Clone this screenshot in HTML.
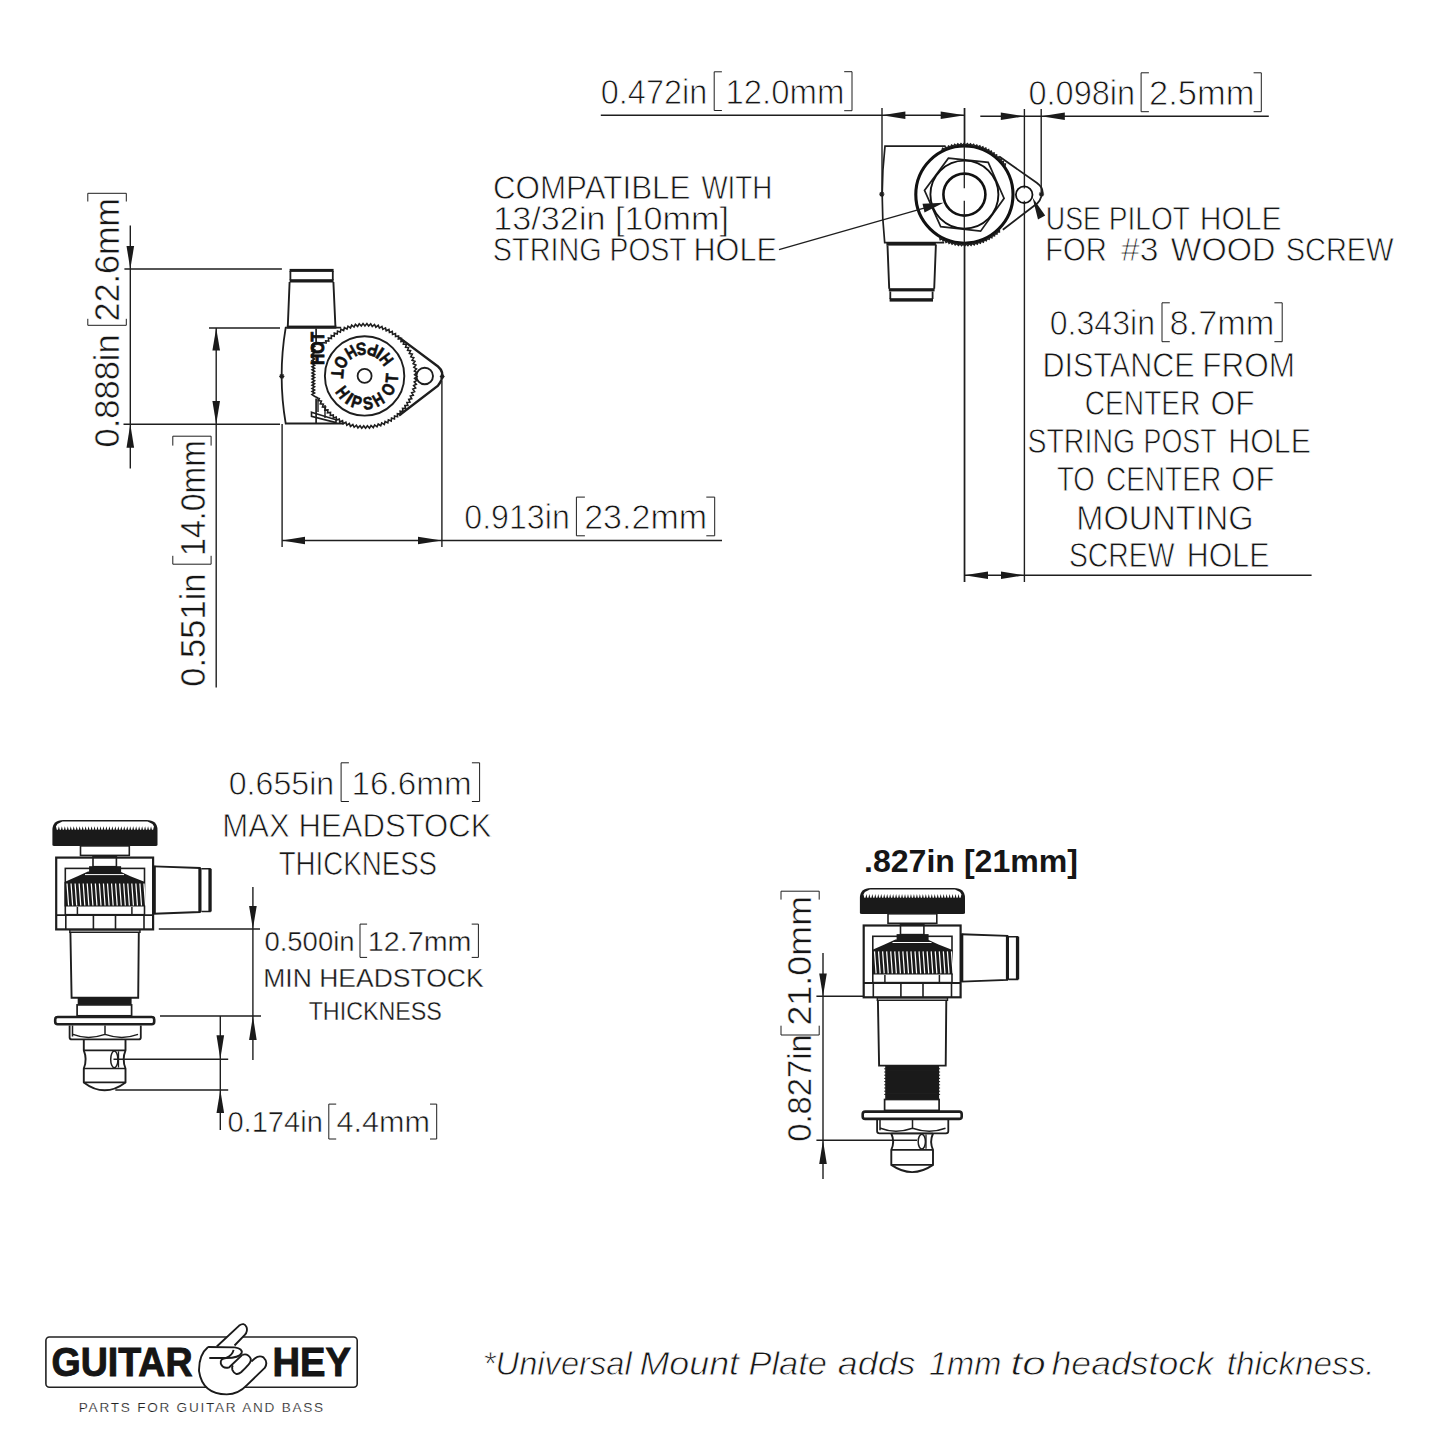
<!DOCTYPE html>
<html><head><meta charset="utf-8"><style>
html,body{margin:0;padding:0;background:#fff;}
svg{display:block;}
.t,.tb,.ti{font-family:"Liberation Sans", sans-serif;fill:#161616;}
.t,.ti{stroke:#fff;stroke-width:0.85px;}
.tr{stroke-width:0.45px;}
.tb{font-weight:bold;}
.lg{stroke:#111;stroke-width:0.9px;}
.ti{font-style:italic;}
line,.s{stroke:#1e1e1e;fill:none;}
.f{fill:#1a1a1a;stroke:none;}
</style></head><body>
<svg width="1445" height="1445" viewBox="0 0 1445 1445">
<rect width="1445" height="1445" fill="#fff"/>
<line x1="600.8" y1="115.2" x2="964.7" y2="115.2" stroke-width="1.4"/>
<line x1="882" y1="108" x2="882" y2="194" stroke-width="1.4"/>
<line x1="964.7" y1="108" x2="964.7" y2="582" stroke-width="1.4"/>
<polygon class="f" points="882.00,115.20 905.40,111.40 905.40,119.00"/>
<polygon class="f" points="964.70,115.20 940.70,119.00 940.70,111.40"/>
<path class="s" d="M721.9,71.8 H714.2 V110.5 H721.9"/>
<path class="s" d="M844.2,71.7 H852 V110.7 H844.2"/>
<line x1="980.3" y1="116.3" x2="1268.8" y2="116.3" stroke-width="1.4"/>
<line x1="1024.4" y1="109" x2="1024.4" y2="582" stroke-width="1.4"/>
<line x1="1041.2" y1="109" x2="1041.2" y2="192" stroke-width="1.4"/>
<polygon class="f" points="1024.40,116.30 1000.80,120.10 1000.80,112.50"/>
<polygon class="f" points="1041.20,116.30 1064.80,112.50 1064.80,120.10"/>
<path class="s" d="M1148.9,72.8 H1141.1 V111.7 H1148.9"/>
<path class="s" d="M1253.6,72.8 H1261.3 V111.7 H1253.6"/>
<path class="s" d="M1169.8,302.8 H1162 V341.7 H1169.8"/>
<path class="s" d="M1274.4,302.8 H1282.2 V341.7 H1274.4"/>
<line x1="964.5" y1="575.3" x2="1311.6" y2="575.3" stroke-width="1.4"/>
<polygon class="f" points="964.50,575.30 988.00,571.50 988.00,579.10"/>
<polygon class="f" points="1024.40,575.30 1001.00,579.10 1001.00,571.50"/>
<line x1="130.3" y1="225.4" x2="130.3" y2="468.4" stroke-width="1.4"/>
<polygon class="f" points="130.30,269.00 126.50,246.10 134.10,246.10"/>
<polygon class="f" points="130.30,424.30 134.10,447.70 126.50,447.70"/>
<line x1="124.4" y1="269" x2="281.9" y2="269" stroke-width="1.4"/>
<line x1="209" y1="328" x2="280" y2="328" stroke-width="1.4"/>
<line x1="123.5" y1="424.3" x2="280" y2="424.3" stroke-width="1.4"/>
<line x1="216.2" y1="328" x2="216.2" y2="687.6" stroke-width="1.4"/>
<polygon class="f" points="216.20,328.00 220.00,350.50 212.40,350.50"/>
<polygon class="f" points="216.20,424.30 212.40,400.90 220.00,400.90"/>
<path class="s" d="M87.8,318.8 V325.3 H126.3 V318.8"/>
<path class="s" d="M87.8,201.5 V193.3 H126.3 V201.5"/>
<path class="s" d="M172.8,555.8 V564.2 H211.1 V555.8"/>
<path class="s" d="M172.8,445.6 V436.2 H211.1 V445.6"/>
<line x1="282.1" y1="424" x2="282.1" y2="546.9" stroke-width="1.4"/>
<line x1="441.9" y1="380.8" x2="441.9" y2="546.9" stroke-width="1.4"/>
<line x1="282.1" y1="540.5" x2="722" y2="540.5" stroke-width="1.4"/>
<polygon class="f" points="282.10,540.50 305.00,536.70 305.00,544.30"/>
<polygon class="f" points="441.90,540.50 418.00,544.30 418.00,536.70"/>
<path class="s" d="M584.9,497.1 H576.4 V535.8 H584.9"/>
<path class="s" d="M706.3,497.1 H714.7 V535.8 H706.3"/>
<path class="s" d="M348.9,762.8 H341.1 V801.5 H348.9"/>
<path class="s" d="M471.9,762.8 H479.6 V801.5 H471.9"/>
<path class="s" d="M367.1,924.1 H360 V957.4 H367.1"/>
<path class="s" d="M471.7,924.1 H478.4 V957.4 H471.7"/>
<path class="s" d="M336.2,1104.1 H328.8 V1139 H336.2"/>
<path class="s" d="M430,1104.1 H436.7 V1139 H430"/>
<line x1="158.8" y1="929" x2="260" y2="929" stroke-width="1.4"/>
<line x1="160" y1="1016" x2="261" y2="1016" stroke-width="1.4"/>
<line x1="252.9" y1="887" x2="252.9" y2="1060" stroke-width="1.4"/>
<polygon class="f" points="252.90,929.00 249.10,905.90 256.70,905.90"/>
<polygon class="f" points="252.90,1016.00 256.70,1040.00 249.10,1040.00"/>
<line x1="220.3" y1="1016" x2="220.3" y2="1129.9" stroke-width="1.4"/>
<polygon class="f" points="220.30,1059.30 216.50,1035.30 224.10,1035.30"/>
<polygon class="f" points="220.30,1090.00 224.10,1113.00 216.50,1113.00"/>
<line x1="113.5" y1="1059.3" x2="228.2" y2="1059.3" stroke-width="1.4"/>
<line x1="115.3" y1="1090" x2="228.2" y2="1090" stroke-width="1.4"/>
<line x1="823" y1="952.9" x2="823" y2="1178.9" stroke-width="1.4"/>
<polygon class="f" points="823.00,996.30 819.20,973.40 826.80,973.40"/>
<polygon class="f" points="823.00,1140.30 826.80,1164.00 819.20,1164.00"/>
<line x1="816.4" y1="996.3" x2="863.5" y2="996.3" stroke-width="1.4"/>
<line x1="816.4" y1="1140.3" x2="917" y2="1140.3" stroke-width="1.4"/>
<path class="s" d="M781,1025.7 V1035 H819.2 V1025.7"/>
<path class="s" d="M781,899.6 V891.2 H819.2 V899.6"/>
<path class="s" d="M945.6,146.1 H885 Q879.5,194 884.7,242.6 H944.2" stroke-width="1.7" />
<rect class="f" x="886.4" y="242.4" width="49.5" height="3.2"/>
<path class="s" d="M887.5,245.4 L889.2,288.7 M935.9,244.4 L934.2,288.7" stroke-width="1.9" />
<rect class="f" x="888.8" y="288.2" width="45.8" height="3.2"/>
<path class="s" d="M890.3,291.4 V299 M932.6,291.4 V299" stroke-width="1.8" />
<rect class="f" x="889.6" y="298.2" width="43.4" height="3.4"/>
<path class="s" d="M999.3,156.5 L1036.7,182.8 Q1045,189 1041.5,196 Q1040,201 1037.4,203.2 L1002.8,229.8" stroke-width="1.8" />
<circle cx="964.4" cy="194.6" r="48.6" fill="#fff" stroke="#111" stroke-width="3.1"/>
<polyline class="s" points="941.95,150.54 942.61,148.32 944.73,149.23 945.53,147.06 947.59,148.09 948.52,145.98 950.52,147.14 951.57,145.08 953.50,146.37 954.68,144.38 956.52,145.78 957.82,143.88 959.57,145.39 960.99,143.56 962.64,145.18 964.17,143.45 965.71,145.17 967.35,143.54 968.78,145.34 970.52,143.82 971.84,145.71 973.66,144.30 974.86,146.27 976.77,144.97 977.85,147.01 979.84,145.83 980.78,147.94 982.84,146.89 983.65,149.05 985.77,148.13 986.45,150.34 988.62,149.55 989.16,151.79 991.37,151.14 991.77,153.42 994.02,152.90 994.28,155.20 996.56,154.82 996.67,157.13 998.97,156.90 998.94,159.21 1001.25,159.12 1001.07,161.43 1003.38,161.48 1003.06,163.77 1005.37,163.97 1004.91,166.24" stroke-width="1.5" stroke-linejoin="miter"/>
<polyline class="s" points="999.37,229.57 999.42,231.88 997.12,231.68 997.03,233.99 994.75,233.64 994.52,235.94 992.26,235.46 991.88,237.74 989.66,237.11 989.14,239.37 986.96,238.60 986.31,240.82 984.17,239.92 983.38,242.10 981.31,241.07 980.39,243.19 978.39,242.03 977.33,244.09 975.40,242.81 974.22,244.80 972.38,243.40 971.08,245.31 969.32,243.80 967.90,245.63 966.25,244.02 964.72,245.75 963.17,244.03 961.53,245.67 960.09,243.86 958.36,245.39 957.03,243.50 955.20,244.92 954.00,242.94 952.09,244.25 951.01,242.20 949.02,243.38 948.07,241.28 946.01,242.33 945.19,240.17 943.07,241.09 942.39,238.88 940.22,239.67 939.67,237.42" stroke-width="1.5" stroke-linejoin="miter"/>
<polygon class="s" stroke-width="1.7" points="948.4,158.2 988.2,162.3 1004.1,198.3 980.6,231.2 940.7,226.7 924.5,190.4"/>
<circle cx="964.4" cy="194.6" r="34" fill="none" stroke="#111" stroke-width="1.9"/>
<circle cx="964.4" cy="194.6" r="21" fill="none" stroke="#111" stroke-width="2.6"/>
<line x1="964.3" y1="108" x2="964.3" y2="188.3" stroke-width="1.3"/>
<line x1="964.3" y1="200.7" x2="964.3" y2="582" stroke-width="1.3"/>
<path class="s" d="M879.1999999999999,194.2 H884.4 M881.8,191.6 V196.79999999999998 M879.9799999999999,192.38 L883.62,196.01999999999998 M879.9799999999999,196.01999999999998 L883.62,192.38" stroke-width="1.2"/>
<path class="s" d="M1038.9,194.2 H1044.1 M1041.5,191.6 V196.79999999999998 M1039.68,192.38 L1043.32,196.01999999999998 M1039.68,196.01999999999998 L1043.32,192.38" stroke-width="1.2"/>
<circle cx="1024.2" cy="194.7" r="8.3" fill="#fff" stroke="#111" stroke-width="1.8"/>
<line x1="1024.3" y1="186.5" x2="1024.3" y2="188.5" stroke-width="1.2"/>
<line x1="1024.3" y1="200.8" x2="1024.3" y2="203" stroke-width="1.2"/>
<line x1="779" y1="249.7" x2="924" y2="208.2" stroke-width="1.3"/>
<polygon class="f" points="943.5,202.8 922.5,203.8 924.5,212.6"/>
<polygon class="f" points="1032.5,197.6 1038,219.5 1045.2,215.6"/>
<rect class="f" x="289.6" y="268.9" width="44" height="3"/>
<rect class="f" x="289.6" y="279.2" width="44" height="3.3"/>
<path class="s" d="M290.4,271 V280 M332.8,271 V280" stroke-width="1.8" />
<path class="s" d="M289.6,282 L287.8,326.5 M333.4,282 L335.4,326.5" stroke-width="1.9" />
<rect class="f" x="286.8" y="325.6" width="49.6" height="3"/>
<path class="s" d="M341.2,327.6 H285.7 Q277.6,376 285.7,423.5 H343.5" stroke-width="1.8" />
<line x1="316.1" y1="328.5" x2="316.1" y2="423.5" stroke-width="1.7"/>
<path class="s" d="M279.2,376.3 H284.40000000000003 M281.8,373.7 V378.90000000000003 M279.98,374.48 L283.62,378.12 M279.98,378.12 L283.62,374.48" stroke-width="1.2"/>
<path class="s" d="M399,337.4 L438,366.5 Q444.5,372 441.4,380 Q440,383 438,385.6 L399,415.5" stroke-width="2.4" />
<circle class="s" cx="424.7" cy="376" r="8.3" stroke-width="1.9"/>
<circle cx="364.6" cy="375.9" r="51" fill="#fff" stroke="none"/>
<rect x="312" y="342.5" width="16" height="56" fill="#fff"/>
<polyline class="s" points="326.30,343.76 325.72,340.77 328.75,341.04 328.40,338.02 331.40,338.51 331.27,335.47 334.23,336.18 334.32,333.13 337.22,334.06 337.53,331.03 340.36,332.17 340.89,329.17 343.63,330.51 344.38,327.56 347.01,329.10 347.97,326.21 350.48,327.93 351.66,325.12 354.03,327.03 355.41,324.31 357.64,326.39 359.21,323.78 361.29,326.01 363.05,323.52 364.95,325.90 366.89,323.55 368.61,326.06 370.71,323.86 372.25,326.49 374.51,324.45 375.85,327.18 378.25,325.31 379.39,328.14 381.92,326.44 382.84,329.35 385.49,327.85 386.20,330.81 388.96,329.51 389.45,332.51 392.29,331.41 392.56,334.45 395.47,333.56 395.52,336.61 398.49,335.94 398.32,338.98 401.33,338.53 400.93,341.55 403.97,341.32 403.35,344.30 406.39,344.29 405.56,347.22 408.60,347.44 407.55,350.30 410.56,350.74 409.31,353.51 412.28,354.17 410.83,356.85 413.75,357.72 412.10,360.28 414.94,361.37 413.11,363.80 415.87,365.09 413.87,367.39 416.53,368.88 414.36,371.02 416.90,372.70 414.59,374.68 417.00,376.54 414.54,378.34 416.81,380.38 414.23,381.99 416.34,384.19 413.65,385.61 415.59,387.95 412.80,389.18 414.57,391.66 411.70,392.67 413.29,395.27 410.35,396.08 411.74,398.79 408.75,399.37 409.93,402.18 406.91,402.54 407.89,405.43 404.84,405.57 405.61,408.52 402.56,408.44 403.11,411.44 400.08,411.13 400.40,414.16 397.40,413.64 397.51,416.68 394.55,415.94 394.43,418.98 391.54,418.02 391.20,421.05 388.38,419.88 387.82,422.88 385.10,421.51 384.31,424.45 381.70,422.88 380.71,425.76 378.21,424.01 377.01,426.81 374.65,424.88 373.25,427.58 371.04,425.48 369.44,428.08 367.39,425.82 365.61,428.29 363.73,425.89 361.77,428.22 360.07,425.69 357.94,427.88 356.43,425.23 354.15,427.25 352.84,424.50 350.42,426.35 349.32,423.51 346.76,425.17 345.87,422.26 343.20,423.73 342.52,420.76 339.76,422.04 339.30,419.03 336.45,420.09 336.21,417.06 333.28,417.91 333.27,414.87 330.29,415.51 330.50,412.47 327.48,412.89 327.91,409.87 324.87,410.07 325.52,407.09 322.48,407.07 323.34,404.15 320.31,403.90 321.39,401.05 318.38,400.58 319.66,397.82" stroke-width="1.6" stroke-linejoin="miter"/>
<polyline class="s" stroke-width="1.7" points="325.4,342.6 313.5,343.5 312.10,345.00 314.50,346.55 312.10,348.10 314.50,349.65 312.10,351.20 314.50,352.75 312.10,354.30 314.50,355.85 312.10,357.40 314.50,358.95 312.10,360.50 314.50,362.05 312.10,363.60 314.50,365.15 312.10,366.70 314.50,368.25 312.10,369.80 314.50,371.35 312.10,372.90 314.50,374.45 312.10,376.00 314.50,377.55 312.10,379.10 314.50,380.65 312.10,382.20 314.50,383.75 312.10,385.30 314.50,386.85 312.10,388.40 314.50,389.95 312.10,391.50 314.50,393.05 312.10,394.60 314.50,396.15 318.4,398.2"/>
<path class="s" d="M439.8,376.5 H444.59999999999997 M442.2,374.1 V378.9 M440.52,374.82 L443.88,378.18 M440.52,378.18 L443.88,374.82" stroke-width="1.2"/>
<circle class="s" cx="364.6" cy="375.9" r="39.7" stroke-width="1.9"/>
<circle class="s" cx="364.6" cy="375.9" r="7.0" stroke-width="1.8"/>
<path class="s" d="M311.5,412.2 L336,419.8 L336,422.6 L311.5,416.3 Z" stroke-width="1.6" />
<path class="s" d="M318,398 L318,412 M325,405 L325,418" stroke-width="1.4" />
<path class="f" d="M52.4,845 V830 Q52.4,820 63.4,820 H146.5 Q157.5,820 157.5,830 V845 Q157.5,846 155.5,846 H54.4 Q52.4,846 52.4,845 Z"/>
<polygon fill="#fff" points="55.9,826.5 57.4,824 62.4,821.6 147.5,821.6 152.5,824 154.0,826.5 154.00,826.2 153.11,829.8 151.92,829.8 151.03,826.2 150.14,829.8 148.95,829.8 148.05,826.2 147.16,829.8 145.97,829.8 145.08,826.2 144.19,829.8 143.00,829.8 142.11,826.2 141.22,829.8 140.03,829.8 139.14,826.2 138.24,829.8 137.06,829.8 136.16,826.2 135.27,829.8 134.08,829.8 133.19,826.2 132.30,829.8 131.11,829.8 130.22,826.2 129.33,829.8 128.14,829.8 127.25,826.2 126.35,829.8 125.16,829.8 124.27,826.2 123.38,829.8 122.19,829.8 121.30,826.2 120.41,829.8 119.22,829.8 118.33,826.2 117.44,829.8 116.25,829.8 115.35,826.2 114.46,829.8 113.27,829.8 112.38,826.2 111.49,829.8 110.30,829.8 109.41,826.2 108.52,829.8 107.33,829.8 106.44,826.2 105.54,829.8 104.36,829.8 103.46,826.2 102.57,829.8 101.38,829.8 100.49,826.2 99.60,829.8 98.41,829.8 97.52,826.2 96.63,829.8 95.44,829.8 94.55,826.2 93.65,829.8 92.46,829.8 91.57,826.2 90.68,829.8 89.49,829.8 88.60,826.2 87.71,829.8 86.52,829.8 85.63,826.2 84.74,829.8 83.55,829.8 82.65,826.2 81.76,829.8 80.57,829.8 79.68,826.2 78.79,829.8 77.60,829.8 76.71,826.2 75.82,829.8 74.63,829.8 73.74,826.2 72.84,829.8 71.66,829.8 70.76,826.2 69.87,829.8 68.68,829.8 67.79,826.2 66.90,829.8 65.71,829.8 64.82,826.2 63.93,829.8 62.74,829.8 61.85,826.2 60.95,829.8 59.76,829.8 58.87,826.2 57.98,829.8 56.79,829.8 55.90,826.2"/>
<rect class="s" x="80.5" y="845.9" width="48.8" height="9.5" stroke-width="1.6"/>
<rect class="s" x="56.2" y="857.6" width="96.9" height="71.8" stroke-width="2.2"/>
<rect class="s" x="93" y="856.7" width="23.4" height="10" fill="#fff" stroke-width="1.6"/>
<rect class="s" x="65.3" y="868.4" width="79.2" height="46.3" stroke-width="1.6"/>
<line x1="56.2" y1="915.1" x2="153.1" y2="915.1" stroke-width="1.8"/>
<line x1="65.8" y1="915.1" x2="65.8" y2="929.4" stroke-width="1.6"/>
<line x1="93.4" y1="915.1" x2="93.4" y2="929.4" stroke-width="1.6"/>
<line x1="115.5" y1="915.1" x2="115.5" y2="929.4" stroke-width="1.6"/>
<line x1="144" y1="915.1" x2="144" y2="929.4" stroke-width="1.6"/>
<line x1="77.4" y1="907" x2="77.4" y2="915.1" stroke-width="1.5"/>
<line x1="131.9" y1="907" x2="131.9" y2="915.1" stroke-width="1.5"/>
<path class="f" d="M64.5,882 L77,876.5 L88,871.5 L120,871.5 L131,876.5 L145,882 V906.6 H64.5 Z"/>
<rect class="f" x="89.1" y="866.2" width="32" height="6"/>
<path class="s" d="M67.00,883.5 L68.60,905.5 M71.05,883.5 L72.65,905.5 M75.10,883.5 L76.70,905.5 M79.15,883.5 L80.75,905.5 M83.20,883.5 L84.80,905.5 M87.25,883.5 L88.85,905.5 M91.30,883.5 L92.90,905.5 M95.35,883.5 L96.95,905.5 M99.40,883.5 L101.00,905.5 M103.45,883.5 L105.05,905.5 M107.50,883.5 L109.10,905.5 M111.55,883.5 L113.15,905.5 M115.60,883.5 L117.20,905.5 M119.65,883.5 L121.25,905.5 M123.70,883.5 L125.30,905.5 M127.75,883.5 L129.35,905.5 M131.80,883.5 L133.40,905.5 M135.85,883.5 L137.45,905.5 M139.90,883.5 L141.50,905.5 M143.95,883.5 L145.55,905.5" stroke-width="1.25" style="stroke:#fff"/>
<line x1="85" y1="874.5" x2="124" y2="874.5" stroke-width="0.9"/>
<path d="M85,874.6 H124" stroke="#fff" stroke-width="1"/>
<path class="s" d="M153.9,866.4 L199.8,868 V912 L153.9,913.7" stroke-width="1.9"/>
<rect class="f" x="152.5" y="865.8" width="3.3" height="48.2"/>
<rect class="f" x="198.4" y="868" width="3.1" height="44"/>
<path class="s" d="M201.5,868.8 H210 V911.5 H201.5" stroke-width="1.6"/>
<rect class="f" x="208.4" y="868.8" width="3.3" height="42.7"/>
<path class="s" d="M69.8,929.8 H140 V932.3 H69.8 Z" stroke-width="1.4"/>
<path class="s" d="M70.4,932.3 L71.6,997.7 H138.2 L138.8,932.3" stroke-width="1.9"/>
<rect class="f" x="77.7" y="997.7" width="53.9" height="7.2"/>
<line x1="80" y1="1002.2" x2="129" y2="1002.2" stroke="#888" stroke-width="0.9"/>
<rect class="s" x="77.1" y="1004.9" width="54.5" height="10.9" stroke-width="1.7"/>
<rect class="s" x="55.2" y="1017.0" width="99" height="7.3" rx="2.5" stroke-width="2.6"/>
<path class="s" d="M69.6,1025.5 V1037.4 Q69.6,1039.4 72,1039.4 H138.5 Q140.8,1039.4 140.8,1037.4 V1025.5" stroke-width="1.8"/>
<path class="s" d="M72.5,1025.5 V1036.4 M73,1034.4 Q88,1040.4 105,1034.4 Q122,1040.4 138,1034.4 M105,1025.5 V1034.4" stroke-width="1.5"/>
<path class="s" d="M83.8,1039.4 V1050.3 Q87.5,1059.4 83.8,1068.5 V1082.4 Q104.6,1098.2 125.5,1082.4 V1068.5 Q121.8,1059.4 125.5,1050.3 V1039.4" stroke-width="1.9"/>
<line x1="83.8" y1="1050.3" x2="125.5" y2="1050.3" stroke-width="1.7"/>
<line x1="83.8" y1="1068.5" x2="125.5" y2="1068.5" stroke-width="1.7"/>
<line x1="83.8" y1="1082.4" x2="125.5" y2="1082.4" stroke-width="1.7"/>
<ellipse class="s" cx="114.3" cy="1059.4" rx="3.6" ry="8.300000000000022" stroke-width="1.5"/>
<line x1="118.5" y1="1051.3" x2="118.5" y2="1067.5" stroke-width="1.3"/>
<path class="f" d="M859.9,912.9 V897.9 Q859.9,887.9 870.9,887.9 H954.0 Q965.0,887.9 965.0,897.9 V912.9 Q965.0,913.9 963.0,913.9 H861.9 Q859.9,913.9 859.9,912.9 Z"/>
<polygon fill="#fff" points="863.4,894.4 864.9,891.9 869.9,889.5 955.0,889.5 960.0,891.9 961.5,894.4 961.50,894.1 960.61,897.6999999999999 959.42,897.6999999999999 958.53,894.1 957.64,897.6999999999999 956.45,897.6999999999999 955.55,894.1 954.66,897.6999999999999 953.47,897.6999999999999 952.58,894.1 951.69,897.6999999999999 950.50,897.6999999999999 949.61,894.1 948.72,897.6999999999999 947.53,897.6999999999999 946.64,894.1 945.74,897.6999999999999 944.56,897.6999999999999 943.66,894.1 942.77,897.6999999999999 941.58,897.6999999999999 940.69,894.1 939.80,897.6999999999999 938.61,897.6999999999999 937.72,894.1 936.83,897.6999999999999 935.64,897.6999999999999 934.75,894.1 933.85,897.6999999999999 932.66,897.6999999999999 931.77,894.1 930.88,897.6999999999999 929.69,897.6999999999999 928.80,894.1 927.91,897.6999999999999 926.72,897.6999999999999 925.83,894.1 924.94,897.6999999999999 923.75,897.6999999999999 922.85,894.1 921.96,897.6999999999999 920.77,897.6999999999999 919.88,894.1 918.99,897.6999999999999 917.80,897.6999999999999 916.91,894.1 916.02,897.6999999999999 914.83,897.6999999999999 913.94,894.1 913.04,897.6999999999999 911.86,897.6999999999999 910.96,894.1 910.07,897.6999999999999 908.88,897.6999999999999 907.99,894.1 907.10,897.6999999999999 905.91,897.6999999999999 905.02,894.1 904.13,897.6999999999999 902.94,897.6999999999999 902.05,894.1 901.15,897.6999999999999 899.96,897.6999999999999 899.07,894.1 898.18,897.6999999999999 896.99,897.6999999999999 896.10,894.1 895.21,897.6999999999999 894.02,897.6999999999999 893.13,894.1 892.24,897.6999999999999 891.05,897.6999999999999 890.15,894.1 889.26,897.6999999999999 888.07,897.6999999999999 887.18,894.1 886.29,897.6999999999999 885.10,897.6999999999999 884.21,894.1 883.32,897.6999999999999 882.13,897.6999999999999 881.24,894.1 880.34,897.6999999999999 879.16,897.6999999999999 878.26,894.1 877.37,897.6999999999999 876.18,897.6999999999999 875.29,894.1 874.40,897.6999999999999 873.21,897.6999999999999 872.32,894.1 871.43,897.6999999999999 870.24,897.6999999999999 869.35,894.1 868.45,897.6999999999999 867.26,897.6999999999999 866.37,894.1 865.48,897.6999999999999 864.29,897.6999999999999 863.40,894.1"/>
<rect class="s" x="888.0" y="913.8" width="48.8" height="9.5" stroke-width="1.6"/>
<rect class="s" x="863.7" y="925.5" width="96.9" height="71.8" stroke-width="2.2"/>
<rect class="s" x="900.5" y="924.6" width="23.4" height="10" fill="#fff" stroke-width="1.6"/>
<rect class="s" x="872.8" y="936.3" width="79.2" height="46.3" stroke-width="1.6"/>
<line x1="863.7" y1="983.0" x2="960.6" y2="983.0" stroke-width="1.8"/>
<line x1="873.3" y1="983.0" x2="873.3" y2="997.3" stroke-width="1.6"/>
<line x1="900.9" y1="983.0" x2="900.9" y2="997.3" stroke-width="1.6"/>
<line x1="923.0" y1="983.0" x2="923.0" y2="997.3" stroke-width="1.6"/>
<line x1="951.5" y1="983.0" x2="951.5" y2="997.3" stroke-width="1.6"/>
<line x1="884.9" y1="974.9" x2="884.9" y2="983.0" stroke-width="1.5"/>
<line x1="939.4" y1="974.9" x2="939.4" y2="983.0" stroke-width="1.5"/>
<path class="f" d="M872.0,949.9 L884.5,944.4 L895.5,939.4 L927.5,939.4 L938.5,944.4 L952.5,949.9 V974.5 H872.0 Z"/>
<rect class="f" x="896.6" y="934.1" width="32" height="6"/>
<path class="s" d="M874.50,951.4 L876.10,973.4 M878.55,951.4 L880.15,973.4 M882.60,951.4 L884.20,973.4 M886.65,951.4 L888.25,973.4 M890.70,951.4 L892.30,973.4 M894.75,951.4 L896.35,973.4 M898.80,951.4 L900.40,973.4 M902.85,951.4 L904.45,973.4 M906.90,951.4 L908.50,973.4 M910.95,951.4 L912.55,973.4 M915.00,951.4 L916.60,973.4 M919.05,951.4 L920.65,973.4 M923.10,951.4 L924.70,973.4 M927.15,951.4 L928.75,973.4 M931.20,951.4 L932.80,973.4 M935.25,951.4 L936.85,973.4 M939.30,951.4 L940.90,973.4 M943.35,951.4 L944.95,973.4 M947.40,951.4 L949.00,973.4 M951.45,951.4 L953.05,973.4" stroke-width="1.25" style="stroke:#fff"/>
<line x1="892.5" y1="942.4" x2="931.5" y2="942.4" stroke-width="0.9"/>
<path d="M892.5,942.5 H931.5" stroke="#fff" stroke-width="1"/>
<path class="s" d="M961.4,934.3 L1007.3,935.9 V979.9 L961.4,981.6" stroke-width="1.9"/>
<rect class="f" x="960.0" y="933.7" width="3.3" height="48.2"/>
<rect class="f" x="1005.9" y="935.9" width="3.1" height="44"/>
<path class="s" d="M1009.0,936.7 H1017.5 V979.4 H1009.0" stroke-width="1.6"/>
<rect class="f" x="1015.9" y="936.7" width="3.3" height="42.7"/>
<path class="s" d="M877.3,997.7 H947.5 V1000.2 H877.3 Z" stroke-width="1.4"/>
<path class="s" d="M877.9,1000.2 L879.1,1065.6 H945.7 L946.3,1000.2" stroke-width="1.9"/>
<rect class="f" x="885.2" y="1065.6" width="53.9" height="33.9"/>
<line x1="884.2" y1="1068.8" x2="886.0" y2="1068.8" stroke="#fff" stroke-width="1"/>
<line x1="938.3" y1="1068.8" x2="940.1" y2="1068.8" stroke="#fff" stroke-width="1"/>
<line x1="884.2" y1="1072.0" x2="886.0" y2="1072.0" stroke="#fff" stroke-width="1"/>
<line x1="938.3" y1="1072.0" x2="940.1" y2="1072.0" stroke="#fff" stroke-width="1"/>
<line x1="884.2" y1="1075.2" x2="886.0" y2="1075.2" stroke="#fff" stroke-width="1"/>
<line x1="938.3" y1="1075.2" x2="940.1" y2="1075.2" stroke="#fff" stroke-width="1"/>
<line x1="884.2" y1="1078.4" x2="886.0" y2="1078.4" stroke="#fff" stroke-width="1"/>
<line x1="938.3" y1="1078.4" x2="940.1" y2="1078.4" stroke="#fff" stroke-width="1"/>
<line x1="884.2" y1="1081.6" x2="886.0" y2="1081.6" stroke="#fff" stroke-width="1"/>
<line x1="938.3" y1="1081.6" x2="940.1" y2="1081.6" stroke="#fff" stroke-width="1"/>
<line x1="884.2" y1="1084.8" x2="886.0" y2="1084.8" stroke="#fff" stroke-width="1"/>
<line x1="938.3" y1="1084.8" x2="940.1" y2="1084.8" stroke="#fff" stroke-width="1"/>
<line x1="884.2" y1="1088.0" x2="886.0" y2="1088.0" stroke="#fff" stroke-width="1"/>
<line x1="938.3" y1="1088.0" x2="940.1" y2="1088.0" stroke="#fff" stroke-width="1"/>
<line x1="884.2" y1="1091.2" x2="886.0" y2="1091.2" stroke="#fff" stroke-width="1"/>
<line x1="938.3" y1="1091.2" x2="940.1" y2="1091.2" stroke="#fff" stroke-width="1"/>
<line x1="884.2" y1="1094.4" x2="886.0" y2="1094.4" stroke="#fff" stroke-width="1"/>
<line x1="938.3" y1="1094.4" x2="940.1" y2="1094.4" stroke="#fff" stroke-width="1"/>
<line x1="887.5" y1="1070.2" x2="936.5" y2="1070.2" stroke-width="0.8"/>
<line x1="887.5" y1="1070.2" x2="936.5" y2="1070.2" stroke="#999" stroke-width="1"/>
<line x1="887.5" y1="1093.5" x2="936.5" y2="1093.5" stroke="#999" stroke-width="1"/>
<rect class="s" x="884.6" y="1099.5" width="54.5" height="10.9" stroke-width="1.7"/>
<rect class="s" x="862.7" y="1111.6" width="99" height="7.3" rx="2.5" stroke-width="2.6"/>
<path class="s" d="M877.1,1120.1 V1131.3 Q877.1,1133.3 879.5,1133.3 H946.0 Q948.3,1133.3 948.3,1131.3 V1120.1" stroke-width="1.8"/>
<path class="s" d="M880.0,1120.1 V1130.3 M880.5,1128.3 Q895.5,1134.3 912.5,1128.3 Q929.5,1134.3 945.5,1128.3 M912.5,1120.1 V1128.3" stroke-width="1.5"/>
<path class="s" d="M891.3,1133.3 V1133.5 Q895.0,1141.65 891.3,1149.8 V1164.9 Q912.1,1179.3 933.0,1164.9 V1149.8 Q929.3,1141.65 933.0,1133.5 V1133.3" stroke-width="1.9"/>
<line x1="891.3" y1="1133.5" x2="933.0" y2="1133.5" stroke-width="1.7"/>
<line x1="891.3" y1="1149.8" x2="933.0" y2="1149.8" stroke-width="1.7"/>
<line x1="891.3" y1="1164.9" x2="933.0" y2="1164.9" stroke-width="1.7"/>
<ellipse class="s" cx="921.8" cy="1141.65" rx="3.6" ry="7.350000000000091" stroke-width="1.5"/>
<line x1="926.0" y1="1134.5" x2="926.0" y2="1148.8" stroke-width="1.3"/>
<rect x="45.9" y="1337" width="311.3" height="50.3" rx="3.5" fill="none" stroke="#222" stroke-width="1.6"/>
<path d="M208.06,1347.07 Q198.72,1354.85 199.03,1371.04 Q202.45,1394.08 226.74,1394.39 Q238.57,1394.08 246.66,1385.36 L264.72,1367.93 Q268.46,1362.32 263.47,1357.34 Q259.12,1354.85 254.76,1358.59 L251.33,1361.39" fill="#fff" stroke="#1a1a1a" stroke-width="1.9" stroke-linejoin="round"/>
<path d="M216.77,1346.44 L239.19,1325.59 Q244.17,1321.85 246.66,1327.45 Q247.91,1331.19 244.79,1334.93 L234.52,1345.51" fill="#fff" stroke="#1a1a1a" stroke-width="1.9" stroke-linejoin="round"/>
<path d="M208.06,1347.07 L234.83,1347.38 Q242.93,1348.62 241.68,1352.98 Q239.19,1357.96 226.11,1357.96 L209.30,1357.96" fill="none" stroke="#1a1a1a" stroke-width="1.9" stroke-linejoin="round"/>
<path d="M233.59,1349.87 Q232.34,1355.47 226.11,1357.96 Q219.89,1358.59 220.82,1363.57 Q223.00,1369.17 229.23,1367.30 L242.30,1354.85" fill="none" stroke="#1a1a1a" stroke-width="1.9" stroke-linejoin="round"/>
<path d="M242.30,1354.85 Q247.91,1352.98 250.71,1358.59 Q251.64,1362.32 246.04,1367.30 L241.06,1372.29 Q235.45,1376.64 232.34,1369.79 Q231.72,1366.68 232.96,1365.44" fill="none" stroke="#1a1a1a" stroke-width="1.9" stroke-linejoin="round"/>
<text class="t" transform="translate(600.79,103.80) scale(0.9232,1)" font-size="35.17" style="stroke-width:0.87px">0.472in</text>
<text class="t" transform="translate(725.44,103.80) scale(0.9363,1)" font-size="35.17" style="stroke-width:0.87px">12.0mm</text>
<text class="t" transform="translate(1028.48,104.80) scale(0.9476,1)" font-size="34.30" style="stroke-width:0.82px">0.098in</text>
<text class="t" transform="translate(1148.98,104.80) scale(1.0064,1)" font-size="34.30" style="stroke-width:0.82px">2.5mm</text>
<text class="t" transform="translate(492.93,198.70) scale(0.9390,1)" font-size="33.43" style="stroke-width:0.76px">COMPATIBLE</text>
<text class="t" transform="translate(701.40,198.70) scale(0.8297,1)" font-size="33.43" style="stroke-width:0.76px">WITH</text>
<text class="t" transform="translate(493.36,229.70) scale(1.0227,1)" font-size="33.43" style="stroke-width:0.76px">13/32in [10mm]</text>
<text class="t" transform="translate(492.80,260.80) scale(0.8627,1)" font-size="33.43" style="stroke-width:0.76px">STRING</text>
<text class="t" transform="translate(609.59,260.80) scale(0.8448,1)" font-size="33.43" style="stroke-width:0.76px">POST</text>
<text class="t" transform="translate(693.51,260.80) scale(0.9159,1)" font-size="33.43" style="stroke-width:0.76px">HOLE</text>
<text class="t" transform="translate(1045.83,230.10) scale(0.8016,1)" font-size="33.43" style="stroke-width:0.76px">USE</text>
<text class="t" transform="translate(1108.81,230.10) scale(0.8403,1)" font-size="33.43" style="stroke-width:0.76px">PILOT</text>
<text class="t" transform="translate(1199.65,230.10) scale(0.9009,1)" font-size="33.43" style="stroke-width:0.76px">HOLE</text>
<text class="t" transform="translate(1045.21,260.60) scale(0.8758,1)" font-size="33.43" style="stroke-width:0.76px">FOR</text>
<text class="t" transform="translate(1121.00,260.60) scale(1.0075,1)" font-size="33.43" style="stroke-width:0.76px">#3</text>
<text class="t" transform="translate(1170.80,260.60) scale(0.9705,1)" font-size="33.43" style="stroke-width:0.76px">WOOD</text>
<text class="t" transform="translate(1285.69,260.60) scale(0.8666,1)" font-size="33.43" style="stroke-width:0.76px">SCREW</text>
<text class="t" transform="translate(1049.70,334.80) scale(0.9134,1)" font-size="35.17" style="stroke-width:0.87px">0.343in</text>
<text class="t" transform="translate(1169.53,334.80) scale(0.9763,1)" font-size="35.17" style="stroke-width:0.87px">8.7mm</text>
<text class="t" transform="translate(1042.51,376.80) scale(0.8942,1)" font-size="34.16" style="stroke-width:0.81px">DISTANCE</text>
<text class="t" transform="translate(1202.34,376.80) scale(0.9228,1)" font-size="34.16" style="stroke-width:0.81px">FROM</text>
<text class="t" transform="translate(1084.68,414.90) scale(0.8253,1)" font-size="34.16" style="stroke-width:0.81px">CENTER</text>
<text class="t" transform="translate(1210.51,414.90) scale(0.9304,1)" font-size="34.16" style="stroke-width:0.81px">OF</text>
<text class="t" transform="translate(1027.41,453.00) scale(0.8356,1)" font-size="34.16" style="stroke-width:0.81px">STRING</text>
<text class="t" transform="translate(1143.50,453.00) scale(0.7867,1)" font-size="34.16" style="stroke-width:0.81px">POST</text>
<text class="t" transform="translate(1228.33,453.00) scale(0.8874,1)" font-size="34.16" style="stroke-width:0.81px">HOLE</text>
<text class="t" transform="translate(1056.97,491.20) scale(0.8103,1)" font-size="34.16" style="stroke-width:0.81px">TO</text>
<text class="t" transform="translate(1105.88,491.20) scale(0.8217,1)" font-size="34.16" style="stroke-width:0.81px">CENTER</text>
<text class="t" transform="translate(1231.35,491.20) scale(0.9058,1)" font-size="34.16" style="stroke-width:0.81px">OF</text>
<text class="t" transform="translate(1076.36,529.80) scale(0.9528,1)" font-size="34.16" style="stroke-width:0.81px">MOUNTING</text>
<text class="t" transform="translate(1068.91,567.40) scale(0.8300,1)" font-size="34.16" style="stroke-width:0.81px">SCREW</text>
<text class="t" transform="translate(1186.83,567.40) scale(0.8874,1)" font-size="34.16" style="stroke-width:0.81px">HOLE</text>
<text class="t tr" transform="translate(118.90,447.38) rotate(-90) scale(0.9958,1)" font-size="34.59" style="stroke-width:0.50px">0.888in</text>
<text class="t tr" transform="translate(118.90,321.40) rotate(-90) scale(0.9881,1)" font-size="34.59" style="stroke-width:0.50px">22.6mm</text>
<text class="t tr" transform="translate(204.60,686.78) rotate(-90) scale(1.0112,1)" font-size="34.16" style="stroke-width:0.48px">0.551in</text>
<text class="t tr" transform="translate(204.60,555.90) rotate(-90) scale(0.9382,1)" font-size="34.16" style="stroke-width:0.48px">14.0mm</text>
<text class="t" transform="translate(464.29,528.90) scale(0.9258,1)" font-size="34.74" style="stroke-width:0.84px">0.913in</text>
<text class="t" transform="translate(584.20,528.90) scale(0.9799,1)" font-size="34.74" style="stroke-width:0.84px">23.2mm</text>
<text class="t" transform="translate(228.69,794.70) scale(0.9537,1)" font-size="33.72" style="stroke-width:0.78px">0.655in</text>
<text class="t" transform="translate(351.62,794.70) scale(0.9859,1)" font-size="33.72" style="stroke-width:0.78px">16.6mm</text>
<text class="t" transform="translate(222.37,837.30) scale(0.9231,1)" font-size="33.72" style="stroke-width:0.78px">MAX HEADSTOCK</text>
<text class="t" transform="translate(278.67,875.10) scale(0.8544,1)" font-size="32.41" style="stroke-width:0.71px">THICKNESS</text>
<text class="t" transform="translate(264.44,950.70) scale(0.9893,1)" font-size="27.76" style="stroke-width:0.43px">0.500in</text>
<text class="t" transform="translate(367.80,950.70) scale(1.0349,1)" font-size="27.76" style="stroke-width:0.43px">12.7mm</text>
<text class="t" transform="translate(263.23,987.20) scale(1.0021,1)" font-size="26.45" style="stroke-width:0.36px">MIN HEADSTOCK</text>
<text class="t" transform="translate(308.64,1019.60) scale(0.8807,1)" font-size="26.45" style="stroke-width:0.36px">THICKNESS</text>
<text class="t" transform="translate(227.39,1132.40) scale(0.9633,1)" font-size="30.23" style="stroke-width:0.58px">0.174in</text>
<text class="t" transform="translate(336.52,1132.40) scale(1.0115,1)" font-size="30.23" style="stroke-width:0.58px">4.4mm</text>
<text class="tb" transform="translate(863.99,872.40) scale(1.0421,1)" font-size="30.81">.827in [21mm]</text>
<text class="t tr" transform="translate(810.80,1141.72) rotate(-90) scale(1.0070,1)" font-size="32.56" style="stroke-width:0.43px">0.827in</text>
<text class="t tr" transform="translate(810.80,1025.58) rotate(-90) scale(1.1023,1)" font-size="32.56" style="stroke-width:0.43px">21.0mm</text>
<text class="ti" transform="translate(482.87,1374.90) scale(0.9769,1)" font-size="33.43" style="stroke-width:0.76px">*Universal</text>
<text class="ti" transform="translate(639.44,1374.90) scale(1.0722,1)" font-size="33.43" style="stroke-width:0.76px">Mount</text>
<text class="ti" transform="translate(748.46,1374.90) scale(1.0315,1)" font-size="33.43" style="stroke-width:0.76px">Plate</text>
<text class="ti" transform="translate(837.84,1374.90) scale(1.0721,1)" font-size="33.43" style="stroke-width:0.76px">adds</text>
<text class="ti" transform="translate(928.99,1374.90) scale(0.9744,1)" font-size="33.43" style="stroke-width:0.76px">1mm</text>
<text class="ti" transform="translate(1010.47,1374.90) scale(1.2691,1)" font-size="33.43" style="stroke-width:0.76px">to</text>
<text class="ti" transform="translate(1051.54,1374.90) scale(1.0656,1)" font-size="33.43" style="stroke-width:0.76px">headstock</text>
<text class="ti" transform="translate(1226.66,1374.90) scale(0.9956,1)" font-size="33.43" style="stroke-width:0.76px">thickness.</text>
<text class="tb lg" transform="translate(51.43,1376.20) scale(0.9432,1)" font-size="39.83">GUITAR</text>
<text class="tb lg" transform="translate(272.51,1376.20) scale(0.9586,1)" font-size="39.83">HEY</text>
<text font-family="Liberation Sans" font-weight="bold" font-size="17.6" fill="#111" stroke="#111" stroke-width="0.6" text-anchor="middle" transform="translate(337.93,396.00) rotate(53.0) scale(0.8,1)">H</text>
<text font-family="Liberation Sans" font-weight="bold" font-size="17.6" fill="#111" stroke="#111" stroke-width="0.6" text-anchor="middle" transform="translate(345.92,403.59) rotate(34.0) scale(1,1)">I</text>
<text font-family="Liberation Sans" font-weight="bold" font-size="17.6" fill="#111" stroke="#111" stroke-width="0.6" text-anchor="middle" transform="translate(354.83,407.84) rotate(17.0) scale(0.85,1)">P</text>
<text font-family="Liberation Sans" font-weight="bold" font-size="17.6" fill="#111" stroke="#111" stroke-width="0.6" text-anchor="middle" transform="translate(368.67,409.05) rotate(-7.0) scale(0.85,1)">S</text>
<text font-family="Liberation Sans" font-weight="bold" font-size="17.6" fill="#111" stroke="#111" stroke-width="0.6" text-anchor="middle" transform="translate(381.30,404.83) rotate(-30.0) scale(0.8,1)">H</text>
<text font-family="Liberation Sans" font-weight="bold" font-size="17.6" fill="#111" stroke="#111" stroke-width="0.6" text-anchor="middle" transform="translate(393.53,392.60) rotate(-60.0) scale(0.8,1)">O</text>
<text font-family="Liberation Sans" font-weight="bold" font-size="17.6" fill="#111" stroke="#111" stroke-width="0.6" text-anchor="middle" transform="translate(397.87,378.81) rotate(-85.0) scale(0.85,1)">T</text>
<text font-family="Liberation Sans" font-weight="bold" font-size="17.6" fill="#111" stroke="#111" stroke-width="0.6" text-anchor="middle" transform="translate(391.27,355.80) rotate(233.0) scale(0.8,1)">H</text>
<text font-family="Liberation Sans" font-weight="bold" font-size="17.6" fill="#111" stroke="#111" stroke-width="0.6" text-anchor="middle" transform="translate(383.28,348.21) rotate(214.0) scale(1,1)">I</text>
<text font-family="Liberation Sans" font-weight="bold" font-size="17.6" fill="#111" stroke="#111" stroke-width="0.6" text-anchor="middle" transform="translate(374.37,343.96) rotate(197.0) scale(0.85,1)">P</text>
<text font-family="Liberation Sans" font-weight="bold" font-size="17.6" fill="#111" stroke="#111" stroke-width="0.6" text-anchor="middle" transform="translate(360.53,342.75) rotate(173.0) scale(0.85,1)">S</text>
<text font-family="Liberation Sans" font-weight="bold" font-size="17.6" fill="#111" stroke="#111" stroke-width="0.6" text-anchor="middle" transform="translate(347.90,346.97) rotate(150.0) scale(0.8,1)">H</text>
<text font-family="Liberation Sans" font-weight="bold" font-size="17.6" fill="#111" stroke="#111" stroke-width="0.6" text-anchor="middle" transform="translate(335.67,359.20) rotate(120.0) scale(0.8,1)">O</text>
<text font-family="Liberation Sans" font-weight="bold" font-size="17.6" fill="#111" stroke="#111" stroke-width="0.6" text-anchor="middle" transform="translate(331.33,372.99) rotate(95.0) scale(0.85,1)">T</text>
<text font-family="Liberation Sans" font-weight="bold" font-size="18" fill="#111" stroke="#111" stroke-width="0.9" transform="translate(323.5,365) rotate(-90)" textLength="33" lengthAdjust="spacingAndGlyphs">HOT</text>
<text x="78.8" y="1411.6" font-family="Liberation Sans" font-size="13.6" fill="#222" stroke="#fff" stroke-width="0.2" textLength="244.4" lengthAdjust="spacing">PARTS FOR GUITAR AND BASS</text>
</svg></body></html>
